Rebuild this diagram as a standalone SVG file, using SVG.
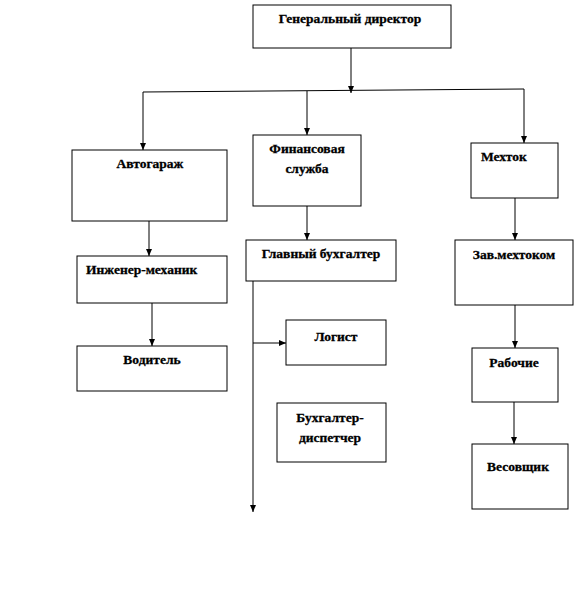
<svg xmlns="http://www.w3.org/2000/svg" width="581" height="609" viewBox="0 0 581 609">
<style>
.box{fill:#fff;stroke:#000;stroke-width:1}
.t{font-family:"Liberation Serif","Times New Roman",serif;font-weight:bold;font-size:13.5px;fill:#000;stroke:#000;stroke-width:0.3}
.c{text-anchor:middle}
.ln{fill:none;stroke:#000;stroke-width:1}
</style>
<defs>
<marker id="ah" markerWidth="8" markerHeight="8" refX="7" refY="4" orient="auto" markerUnits="userSpaceOnUse">
<path d="M0,1 L7,4 L0,7 Z" fill="#000"/>
</marker>
</defs>
<rect width="581" height="609" fill="#fff"/>
<g id="connectors">
<path class="ln" d="M351,48 V93" marker-end="url(#ah)"/>
<path class="ln" d="M143,92 L524,89"/>
<path class="ln" d="M143,92 V150" marker-end="url(#ah)"/>
<path class="ln" d="M307,91 V135" marker-end="url(#ah)"/>
<path class="ln" d="M524,89 V143" marker-end="url(#ah)"/>
<path class="ln" d="M307,206 V240" marker-end="url(#ah)"/>
<path class="ln" d="M149,221 V256" marker-end="url(#ah)"/>
<path class="ln" d="M152,303 V346" marker-end="url(#ah)"/>
<path class="ln" d="M253,281 V512" marker-end="url(#ah)"/>
<path class="ln" d="M253,343 H286" marker-end="url(#ah)"/>
<path class="ln" d="M515,198 V240" marker-end="url(#ah)"/>
<path class="ln" d="M515,305 V348" marker-end="url(#ah)"/>
<path class="ln" d="M514,402 V444" marker-end="url(#ah)"/>
</g>
<g id="gendir"><rect class="box" x="253" y="5" width="198" height="43"/><text class="t c" x="350" y="23">Генеральный директор</text></g>
<g id="avtogarazh"><rect class="box" x="72" y="150" width="155" height="71"/><text class="t c" x="150" y="168">Автогараж</text></g>
<g id="finsluzhba"><rect class="box" x="253" y="135" width="108" height="71"/><text class="t c" x="307" y="153">Финансовая</text><text class="t c" x="307" y="173">служба</text></g>
<g id="mehtok"><rect class="box" x="471" y="143" width="87" height="55"/><text class="t" x="481" y="161">Мехток</text></g>
<g id="glbuh"><rect class="box" x="246" y="240" width="150" height="41"/><text class="t c" x="321" y="258">Главный бухгалтер</text></g>
<g id="inzhener"><rect class="box" x="77" y="256" width="150" height="47"/><text class="t" x="86" y="274">Инженер-механик</text></g>
<g id="zavmehtok"><rect class="box" x="455" y="240" width="118" height="65"/><text class="t c" x="514" y="259">Зав.мехтоком</text></g>
<g id="logist"><rect class="box" x="286" y="320" width="100" height="45"/><text class="t c" x="336" y="341">Логист</text></g>
<g id="voditel"><rect class="box" x="77" y="346" width="150" height="45"/><text class="t c" x="152" y="364">Водитель</text></g>
<g id="rabochie"><rect class="box" x="472" y="348" width="86" height="54"/><text class="t c" x="514" y="367">Рабочие</text></g>
<g id="buhdisp"><rect class="box" x="277" y="403" width="109" height="59"/><text class="t c" x="330" y="422">Бухгалтер-</text><text class="t c" x="330" y="442">диспетчер</text></g>
<g id="vesovshik"><rect class="box" x="472" y="444" width="96" height="65"/><text class="t c" x="518" y="471">Весовщик</text></g>
</svg>
